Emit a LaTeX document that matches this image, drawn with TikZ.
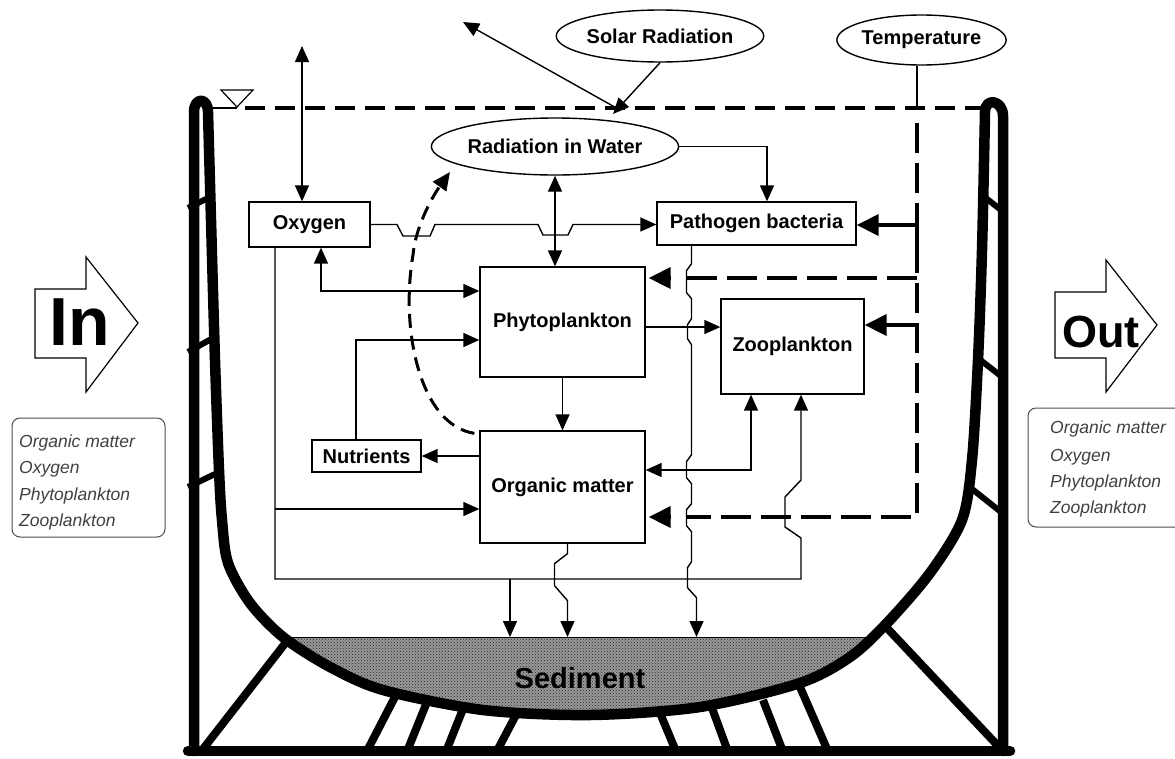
\documentclass[tikz,border=0pt]{standalone}
\usepackage{fontspec}
\setmainfont{Liberation Sans}
\usetikzlibrary{arrows.meta,shapes.geometric,calc,patterns}
\begin{document}
\begin{tikzpicture}[x=1pt,y=-1pt,
  lbl/.style={font=\fontsize{20}{24}\selectfont\bfseries},
  boxn/.style={draw, line width=1.3pt, inner sep=0pt, lbl},
  elln/.style={draw, ellipse, line width=1.4pt, inner sep=0pt, lbl},
  thinline/.style={line width=1.4pt},
  tarr/.style={thinline, -{Triangle[length=16pt,width=14pt]}},
  tarrb/.style={thinline, {Triangle[length=16pt,width=14pt]}-{Triangle[length=16pt,width=14pt]}},
  bigtip/.style={line width=3.5pt, -{Triangle[length=22pt,width=21pt]}},
  tdash/.style={line width=3.5pt, dash pattern=on 30pt off 10pt},
  wall/.style={line width=10.5pt, line join=round, line cap=round},
  strut/.style={line width=8pt},
  brace/.style={line width=6pt},
  legendbox/.style={draw=black!70, line width=1pt, rounded corners=8pt},
  legtxt/.style={font=\fontsize{17.5}{21}\selectfont\itshape, text=black!75, anchor=west, inner sep=0pt},
  blockarr/.style={draw, line width=1.2pt, fill=white, line join=miter},
]
\useasboundingbox (0,0) rectangle (1175,758);

% ---------- sediment ----------
\begin{scope}
\clip plot[smooth] coordinates {(208,112) (211,220) (215,360) (219,470) (222,520) (228,563) (250,603) (283,637) (330,667) (383,690) (483,710) (590,715) (700,707) (800,683) (850,657) (887,623) (930,573) (962,520) (972,460) (978,360) (982,250) (985,112)} -- cycle;
\fill[black!40] (200,637) rectangle (1000,760);
\fill[pattern=crosshatch dots, pattern color=black!85] (200,637) rectangle (1000,760);
\draw[line width=1pt] (200,637) -- (1000,637);
\end{scope}
\node[font=\fontsize{29}{29}\selectfont\bfseries, text=black] (sedtxt) at (580,678) {Sediment};

% ---------- tank walls ----------
\draw[wall] (194,751) -- (194,112) .. controls (194,97) and (208,97) .. (208,112)
  -- plot[smooth] coordinates {(208,112) (211,220) (215,360) (219,470) (222,520) (228,563) (250,603) (283,637) (330,667) (383,690) (483,710) (590,715) (700,707) (800,683) (850,657) (887,623) (930,573) (962,520) (972,460) (978,360) (982,250) (985,112)}
  .. controls (985,97) and (1003,100) .. (1003,116) -- (1003,751);
\draw[wall] (188,751) -- (1010,751);
% struts
\draw[strut] (287,641) -- (203,749);
\draw[strut] (887,628) -- (1000,748);
\draw[strut] (368,749) -- (397,693);
\draw[strut] (408,749) -- (427,702);
\draw[strut] (447,749) -- (463,709);
\draw[strut] (498,749) -- (517,713);
\draw[strut] (675,749) -- (660,713);
\draw[strut] (727,749) -- (712,708);
\draw[strut] (782,749) -- (763,700);
\draw[strut] (827,749) -- (800,687);
% braces
\draw[brace] (188,208) -- (212,196);
\draw[brace] (188,352) -- (213,338);
\draw[brace] (188,487) -- (215,474);
\draw[brace] (982,195) -- (1001,210);
\draw[brace] (979,359) -- (1001,376);
\draw[brace] (972,489) -- (1001,512);

% ---------- water surface ----------
\draw[line width=2pt] (208,108) -- (237,108);
\draw[line width=1.2pt] (221,90) -- (253,90) -- (237,107) -- cycle;
\draw[line width=4.5pt, dash pattern=on 20pt off 10pt] (245,108) -- (982,108);

% ---------- nodes ----------
\node[boxn, minimum width=121pt, minimum height=45pt] (oxy) at (309.5,224.5) {Oxygen};
\node[boxn, minimum width=199pt, minimum height=43pt] (path) at (756.5,223.5) {Pathogen bacteria};
\node[boxn, minimum width=165pt, minimum height=110pt] (phyto) at (562.5,322) {Phytoplankton};
\node[boxn, minimum width=143pt, minimum height=95pt] (zoo) at (792.5,346.5) {Zooplankton};
\node[boxn, minimum width=109pt, minimum height=32pt] (nutr) at (366.5,456) {Nutrients};
\node[boxn, minimum width=165pt, minimum height=112pt] (org) at (562.5,487) {Organic matter};
\node[elln, minimum width=240pt, minimum height=57pt] (radw) at (555,146.5) {Radiation in Water};
\node[elln, minimum width=206pt, minimum height=52pt] (solar) at (660,36) {Solar Radiation};
\node[elln, minimum width=169pt, minimum height=50pt] (temp) at (921.5,40) {Temperature};

% ---------- coordinates ----------
\coordinate (oxsky) at (302,46);
\coordinate (wpt) at (620,110);
\coordinate (refl) at (463,22);
\coordinate (inc) at (613,114);
\coordinate (lowL) at (275,579);
\coordinate (sA) at (510,637);
\coordinate (sB) at (567.5,637);
\coordinate (sC) at (696.5,637);
\coordinate (tP) at (917,225);
\coordinate (tPh) at (917,278);
\coordinate (tZ) at (917,325);
\coordinate (tO) at (917,517);

% ---------- radiation ----------
\draw[tarr] (wpt) -- (refl);
\draw[tarr] (solar.south) -- (inc);
\draw[tarrb] (oxsky) -- (oxsky |- oxy.north);
\draw[tarrb] (radw.south) -- (radw.south |- phyto.north);
\draw[tarr] (radw.east) -| ($(path.north)+(10.5,0)$);
\draw[line width=3pt, dash pattern=on 14pt off 8pt, -{Triangle[length=18pt,width=16pt]}]
  ($(org.north west)+(-5,3)$) .. controls (420,425) and (400,330) .. (413,255)
  .. controls (415,230) and (430,200) .. (450,172);

% ---------- thin connectors ----------
\draw[tarr] (oxy.east) -- (397,224.5) -- (403,236) -- (430,236) -- (435,224.5)
  -- (538,224.5) -- (543,235) -- (568,235) -- (573,224.5) -- (path.west |- oxy.east);
\draw[tarrb] ($(oxy.south)+(11.5,0)$) |- ($(phyto.west)+(0,-31)$);
\draw[tarr] ($(nutr.north)+(-10.5,0)$) |- ($(phyto.west)+(0,18)$);
\draw[tarr] (org.west |- nutr.east) -- (nutr.east);
\draw[tarr] (phyto.south) -- (org.north);
\path ($(phyto.east)+(0,5)$) coordinate (pz);
\draw[tarr] (pz) -- (pz -| zoo.west);
\draw[tarrb] ($(org.east)+(0,-17)$) -| ($(zoo.south)+(-41.5,0)$);
\draw[tarr] ($(oxy.south)+(-34.5,0)$) -- (lowL) -- (801,579) -- (801,538) -- (785,527)
  -- (785,497) -- (801,480) -- ($(zoo.south)+(8.5,0)$);
\path ($(org.west)+(0,22)$) coordinate (oj);
\draw[tarr] (lowL |- oj) -- (oj);
\draw[tarr] (lowL -| sA) -- (sA);
\draw[tarr] ($(org.south)+(5,0)$) -- ++(0,10) -- ++(-13,10) -- ++(0,22) -- ++(13,15) -- (sB);
\draw[tarr] ($(path.south)+(-65,0)$) -- ++(0,18) -- ++(-5,7) -- ++(0,22) -- ++(5,6)
  -- ++(0,20) -- ++(-4,6) -- ++(0,14) -- ++(4,6) -- ++(0,110) -- ++(-5,7) -- ++(0,16)
  -- ++(5,6) -- ++(0,20) -- ++(-5,6) -- ++(0,16) -- ++(5,6) -- ++(0,30) -- ++(-4,6)
  -- ++(0,20) -- ++(9,10) -- (sC);

% ---------- temperature ----------
\draw[line width=2pt] ($(temp.south)+(-4.5,0)$) -- (917,108);
\draw[tdash] (917,123) -- (tO) -- ($(tO -| org.east)+(41,0)$);
\draw[tdash] (tPh) -- ($(tPh -| phyto.east)+(41,0)$);
\draw[bigtip] ($(tPh -| phyto.east)+(25,0)$) -- ($(tPh -| phyto.east)+(3,0)$);
\draw[bigtip] ($(tO -| org.east)+(25,0)$) -- ($(tO -| org.east)+(3,0)$);
\draw[bigtip] (917,262) -- (tP) -- (tP -| path.east);
\draw[bigtip] (tZ) -- (tZ -| zoo.east);

% ---------- In / Out ----------
\draw[blockarr] (35,289) -- (86,289) -- (86,257) -- (138,323) -- (86,392) -- (86,358) -- (35,358) -- cycle;
\node[font=\fontsize{68}{68}\selectfont\bfseries, inner sep=0pt] (intxt) at (80,322) {In};
\draw[blockarr] (1055,292) -- (1106,292) -- (1106,260) -- (1157,325) -- (1106,392) -- (1106,358) -- (1055,358) -- cycle;
\node[font=\fontsize{45}{45}\selectfont\bfseries, inner sep=0pt] (outtxt) at (1101,332) {Out};

% ---------- legends ----------
\draw[legendbox] (12,418) rectangle (165,537);
\node[legtxt] (li1) at (19,443) {Organic matter};
\node[legtxt] (li2) at (19,469) {Oxygen};
\node[legtxt] (li3) at (19,496) {Phytoplankton};
\node[legtxt] (li4) at (19,522) {Zooplankton};
\draw[legendbox] (1028,408) rectangle (1190,527);
\node[legtxt] (lo1) at (1050,429) {Organic matter};
\node[legtxt] (lo2) at (1050,457) {Oxygen};
\node[legtxt] (lo3) at (1050,483) {Phytoplankton};
\node[legtxt] (lo4) at (1050,509) {Zooplankton};
\end{tikzpicture}
\end{document}
